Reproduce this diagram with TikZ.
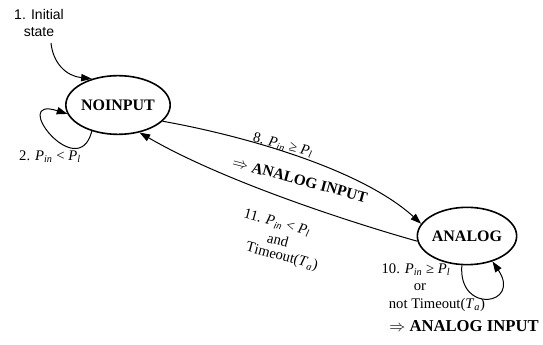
\documentclass[tikz,border=0pt]{standalone}
\usepackage{fontspec}
\setmainfont{Liberation Serif}
\newfontfamily\labsans{Liberation Sans}
\usetikzlibrary{arrows.meta,shapes.geometric}
\newcommand\Pv[1]{\textit{P}\textsubscript{\textit{#1}}}
\newcommand\Tv[1]{\textit{T}\textsubscript{\textit{#1}}}
\begin{document}
\begin{tikzpicture}[x=0.75pt,y=-0.75pt,
  state/.style={draw, ellipse, line width=1.2pt, minimum width=65pt, minimum height=44pt, inner sep=0pt, font=\fontsize{12}{14}\selectfont\bfseries},
  arr/.style={line width=0.75pt, -{Triangle[length=8pt,width=5.5pt]}},
  lab/.style={font=\fontsize{11}{12}\selectfont, inner sep=1pt, align=center},
  blab/.style={font=\fontsize{11.5}{12}\selectfont\bfseries, inner sep=1pt}]
\useasboundingbox (0,0) rectangle (543,345);
\node[state] (no) at (118,105) {NOINPUT};
\node[state, minimum width=64pt, minimum height=43pt] (an) at (467,236) {ANALOG};
\node[lab, font=\labsans\fontsize{10.5}{12.5}\selectfont] (init) at (39,23) {1. Initial\\state};
\coordinate (s0) at (51,43);
\draw[arr] (s0) .. controls (53,63) and (66,76) .. (no.135);
\draw[arr] (no.-135) .. controls (78,185) and (8,95) .. (no.190);
\draw[arr] (an.-100) .. controls (458,315) and (522,305) .. (an.-45);
\draw[arr] (no.-20) .. controls (240,135) and (360,168) .. (an.165);
\draw[arr] (an.186) .. controls (370,228) and (230,185) .. (no.-52);
\node[lab] (l2) at (50,157) {2. \Pv{in} < \Pv{l}};
\node[lab, rotate=-14] (l8) at (283,145) {8. \Pv{in} ≥ \Pv{l}};
\node[blab, rotate=-15] (l8b) at (300,180) {$\Rightarrow$ ANALOG INPUT};
\node[lab, rotate=-15] (l11a) at (277,223) {11. \Pv{in} < \Pv{l}};
\node[lab, rotate=-15] (l11b) at (278,240) {and};
\node[lab, rotate=-15] (l11c) at (282,257) {Timeout(\Tv{a})};
\node[lab] (l10a) at (416,270) {10. \Pv{in} ≥ \Pv{l}};
\node[lab] (l10b) at (420,287) {or};
\node[lab] (l10c) at (437,305) {not Timeout(\Tv{a})};
\node[blab, font=\fontsize{12.5}{13}\selectfont\bfseries] (l10d) at (464,326) {$\Rightarrow$ ANALOG INPUT};
\end{tikzpicture}
\end{document}
